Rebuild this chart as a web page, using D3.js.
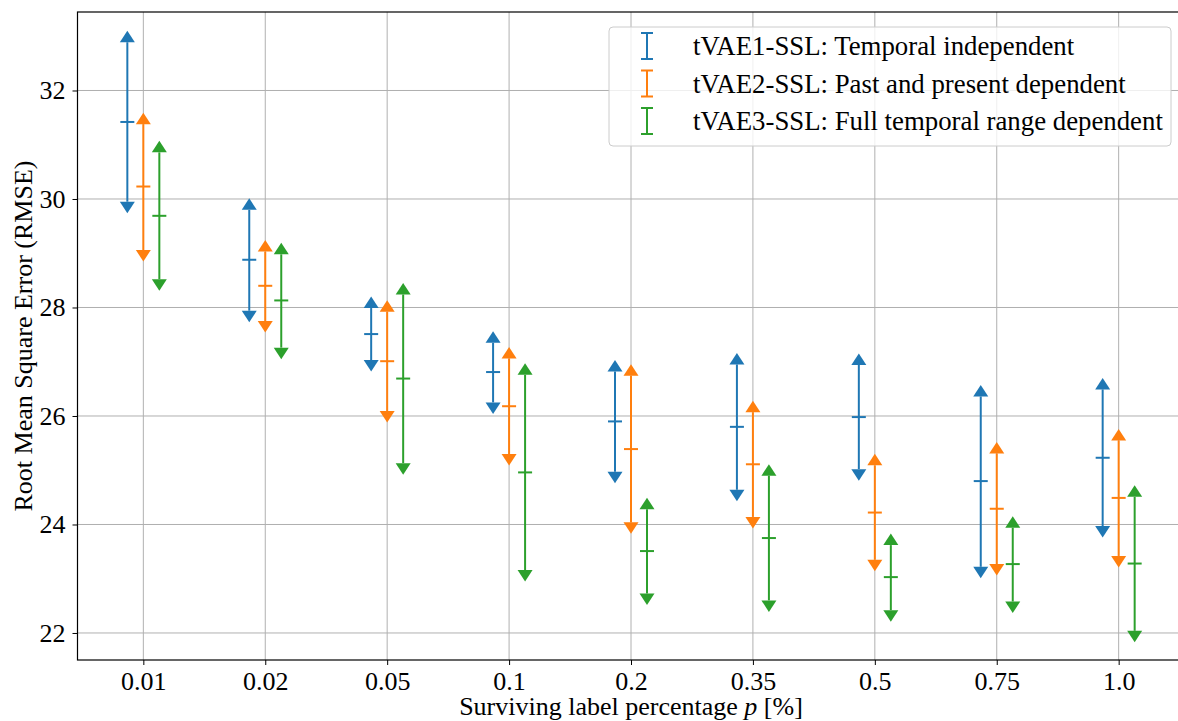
<!DOCTYPE html>
<html>
<head>
<meta charset="utf-8">
<script src="https://cdnjs.cloudflare.com/ajax/libs/d3/7.8.5/d3.min.js"></script>
<style>
  body { margin: 0; background: #fff; }
  svg { display: block; font-family: "Liberation Serif", "Times New Roman", serif; }
</style>
</head>
<body>
<div id="chart"></div>
<script>
// surviving label percentages on the x axis
const categories = ["0.01", "0.02", "0.05", "0.1", "0.2", "0.35", "0.5", "0.75", "1.0"];

// tVAE1-SSL
const tvae1Mean = [31.42, 28.88, 27.51, 26.81, 25.90, 25.80, 25.98, 24.80, 25.23];
const tvae1Max  = [32.89, 29.80, 27.99, 27.35, 26.82, 26.95, 26.94, 26.36, 26.49];
const tvae1Min  = [29.95, 27.94, 27.03, 26.25, 24.97, 24.64, 25.02, 23.22, 23.97];

// tVAE2-SSL
const tvae2Mean = [30.23, 28.40, 27.01, 26.18, 25.39, 25.11, 24.22, 24.29, 24.49];
const tvae2Max  = [31.38, 29.03, 27.92, 27.06, 26.74, 26.07, 25.09, 25.31, 25.55];
const tvae2Min  = [29.06, 27.75, 26.09, 25.30, 24.04, 24.14, 23.35, 23.27, 23.42];

// tVAE3-SSL
const tvae3Mean = [29.69, 28.13, 26.69, 24.96, 23.51, 23.75, 23.03, 23.27, 23.28];
const tvae3Max  = [30.86, 28.98, 28.24, 26.76, 24.28, 24.90, 23.62, 23.94, 24.51];
const tvae3Min  = [28.52, 27.26, 25.13, 23.16, 22.73, 22.60, 22.42, 22.58, 22.04];

const seriesNames = [
    "tVAE1-SSL: Temporal independent",
    "tVAE2-SSL: Past and present dependent",
    "tVAE3-SSL: Full temporal range dependent"
];
const yTicks = [22, 24, 26, 28, 30, 32];

const colors = ["#1f77b4", "#ff7f0e", "#2ca02c"];

const series = [
    {name: seriesNames[0], mean: tvae1Mean, max: tvae1Max, min: tvae1Min},
    {name: seriesNames[1], mean: tvae2Mean, max: tvae2Max, min: tvae2Min},
    {name: seriesNames[2], mean: tvae3Mean, max: tvae3Max, min: tvae3Min}
];

const width = 1178, height = 721;
const margin = {top: 12, left: 77.5, right: 1184.5, bottom: 660};

const svg = d3.select("#chart")
    .append("svg")
    .attr("width", width)
    .attr("height", height);

const x = d3.scalePoint()
    .domain(categories)
    .range([margin.left, margin.right])
    .padding(0.54);

const offset = d3.scalePoint()
    .domain([0, 1, 2])
    .range([-16, 16]);

const y = d3.scaleLinear()
    .domain([21.502, 33.447])
    .range([margin.bottom, margin.top]);

// grid
svg.append("g")
    .selectAll("line")
    .data(categories)
    .join("line")
        .attr("x1", d => x(d)).attr("x2", d => x(d))
        .attr("y1", margin.top).attr("y2", margin.bottom)
        .attr("stroke", "#b0b0b0")
        .attr("stroke-width", 1);

svg.append("g")
    .selectAll("line")
    .data(yTicks)
    .join("line")
        .attr("x1", margin.left).attr("x2", margin.right)
        .attr("y1", d => y(d)).attr("y2", d => y(d))
        .attr("stroke", "#b0b0b0")
        .attr("stroke-width", 1);

// axes
const xAxis = svg.append("g")
    .attr("transform", "translate(0," + margin.bottom + ")")
    .call(d3.axisBottom(x).tickSize(5).tickPadding(7).tickSizeOuter(0));
xAxis.select(".domain").remove();
xAxis.selectAll("text")
    .style("font-size", "26px")
    .style("font-family", "Liberation Serif")
    .attr("fill", "#000");

const yAxis = svg.append("g")
    .attr("transform", "translate(" + margin.left + ",0)")
    .call(d3.axisLeft(y).tickValues(yTicks).tickSize(5).tickPadding(7).tickSizeOuter(0));
yAxis.select(".domain").remove();
yAxis.selectAll("text")
    .style("font-size", "26px")
    .style("font-family", "Liberation Serif")
    .attr("fill", "#000");

// spines
svg.append("rect")
    .attr("x", margin.left)
    .attr("y", margin.top)
    .attr("width", margin.right - margin.left)
    .attr("height", margin.bottom - margin.top)
    .attr("fill", "none")
    .attr("stroke", "#000")
    .attr("stroke-width", 1.2);

// error bars
const triW = 7.5, triH = 11.5;
series.forEach(function(s, i) {
    const g = svg.append("g").attr("fill", colors[i]).attr("stroke", colors[i]);
    const xi = d => x(d) + offset(i);

    g.selectAll(".bar")
        .data(categories)
        .join("line")
            .attr("class", "bar")
            .attr("x1", xi).attr("x2", xi)
            .attr("y1", (d, k) => y(s.max[k]))
            .attr("y2", (d, k) => y(s.min[k]))
            .attr("stroke-width", 2);

    g.selectAll(".mean")
        .data(categories)
        .join("line")
            .attr("class", "mean")
            .attr("x1", d => xi(d) - 7).attr("x2", d => xi(d) + 7)
            .attr("y1", (d, k) => y(s.mean[k]))
            .attr("y2", (d, k) => y(s.mean[k]))
            .attr("stroke-width", 2);

    g.selectAll(".up")
        .data(categories)
        .join("path")
            .attr("class", "up")
            .attr("stroke", "none")
            .attr("d", function(d, k) {
                const cx = xi(d), cy = y(s.max[k]);
                return "M" + (cx - triW) + "," + cy + "L" + cx + "," + (cy - triH) + "L" + (cx + triW) + "," + cy + "Z";
            });

    g.selectAll(".down")
        .data(categories)
        .join("path")
            .attr("class", "down")
            .attr("stroke", "none")
            .attr("d", function(d, k) {
                const cx = xi(d), cy = y(s.min[k]);
                return "M" + (cx - triW) + "," + cy + "L" + cx + "," + (cy + triH) + "L" + (cx + triW) + "," + cy + "Z";
            });
});

// axis labels
svg.append("text")
    .attr("x", (margin.left + margin.right) / 2)
    .attr("y", 715)
    .attr("text-anchor", "middle")
    .style("font-size", "26px")
    .html('Surviving label percentage <tspan font-style="italic">p</tspan> [%]');

svg.append("text")
    .attr("transform", "translate(32," + ((margin.top + margin.bottom) / 2) + ") rotate(-90)")
    .attr("text-anchor", "middle")
    .style("font-size", "26px")
    .text("Root Mean Square Error (RMSE)");

// legend
const legend = svg.append("g").attr("transform", "translate(609,27)");
legend.append("rect")
    .attr("width", 562)
    .attr("height", 119)
    .attr("rx", 4)
    .attr("fill", "#fff")
    .attr("fill-opacity", 0.8)
    .attr("stroke", "#cccccc")
    .attr("stroke-width", 1);

const rows = legend.selectAll(".row")
    .data(series)
    .join("g")
        .attr("class", "row")
        .attr("transform", (d, i) => "translate(0," + (19 + i * 37.5) + ")");

rows.append("path")
    .attr("d", "M32,-13H44M38,-13V13M32,13H44")
    .attr("fill", "none")
    .attr("stroke", (d, i) => colors[i])
    .attr("stroke-width", 2);

rows.append("text")
    .attr("x", 84)
    .attr("y", 9)
    .style("font-size", "26.8px")
    .text(d => d.name);
</script>
</body>
</html>
